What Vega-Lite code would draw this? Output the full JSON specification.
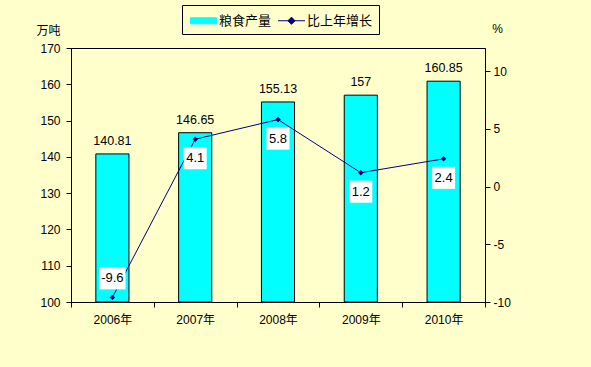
{
  "$schema": "https://vega.github.io/schema/vega-lite/v6.json",
  "width": 414,
  "height": 254,
  "autosize": {"type": "none"},
  "padding": {"left": 71, "top": 48, "right": 106, "bottom": 65},
  "background": "#FFFFCC",
  "config": {
    "font": "Liberation Sans, Noto Sans CJK SC",
    "view": {"stroke": "black", "strokeWidth": 1, "fill": "#FFFFCC"},
    "axis": {
      "labelFontSize": 12, "labelColor": "black", "domainColor": "black", "tickColor": "black",
      "grid": false, "titleFontSize": 12, "titleFontWeight": "normal", "titleColor": "black",
      "labelFont": "Liberation Sans, Noto Sans CJK SC", "titleFont": "Liberation Sans, Noto Sans CJK SC"
    }
  },
  "data": {"values": [
    {"year": "2006年", "output": 140.81, "growth": -9.6},
    {"year": "2007年", "output": 146.65, "growth": 4.1},
    {"year": "2008年", "output": 155.13, "growth": 5.8},
    {"year": "2009年", "output": 157, "growth": 1.2},
    {"year": "2010年", "output": 160.85, "growth": 2.4}
  ]},
  "encoding": {
    "x": {"field": "year", "type": "nominal", "scale": {"paddingInner": 0, "paddingOuter": 0},
      "axis": {"title": null, "labelAngle": 0, "tickBand": "extent", "tickSize": 5, "labelPadding": 7, "domain": false}}
  },
  "layer": [
    {
      "encoding": {
        "y": {"field": "output", "type": "quantitative",
          "scale": {"domain": [100, 170], "nice": false, "zero": false},
          "axis": {"title": "万吨", "titleAngle": 0, "titleX": -23, "titleY": -18, "titleAlign": "center", "titleBaseline": "middle",
            "values": [100, 110, 120, 130, 140, 150, 160, 170], "tickSize": 5, "labelPadding": 6}}
      },
      "layer": [
        {
          "mark": {"type": "bar", "width": {"band": 0.4}, "stroke": "black", "strokeWidth": 1},
          "encoding": {
            "y2": {"datum": 100},
            "color": {"datum": "粮食产量", "type": "nominal",
              "scale": {"domain": ["粮食产量", "比上年增长"], "range": ["#00FFFF", "#000080"]},
              "legend": {
                "orient": "none", "legendX": 111, "legendY": -43, "direction": "horizontal", "title": null,
                "strokeColor": "black", "fillColor": "#FFFFCC", "padding": 6, "labelFontSize": 13,
                "labelFont": "Liberation Sans, Noto Sans CJK SC", "labelColor": "black",
                "columnPadding": 4, "symbolSize": 324, "labelOffset": 6, "symbolOffset": 6,
                "symbolType": {"expr": "datum.value === '粮食产量' ? 'M-1.44,-0.33L1.44,-0.33L1.44,0.33L-1.44,0.33Z' : 'M-1.5,0L1.5,0M-0.4,0L0,-0.4L0.4,0L0,0.4Z'"},
                "symbolStrokeColor": {"expr": "datum.value === '粮食产量' ? 'black' : '#000080'"},
                "symbolStrokeWidth": 1
              }}
          }
        },
        {
          "mark": {"type": "text", "dy": -6, "fontSize": 12.5, "color": "black", "baseline": "bottom"},
          "encoding": {"text": {"field": "output", "type": "nominal"}}
        }
      ]
    },
    {
      "encoding": {
        "y": {"field": "growth", "type": "quantitative",
          "scale": {"domain": [-10, 12], "nice": false, "zero": false},
          "axis": {"orient": "right", "title": "%", "titleAngle": 0, "titleX": 12, "titleY": -20, "titleAlign": "center", "titleBaseline": "middle",
            "values": [-10, -5, 0, 5, 10], "labelExpr": "'' + datum.value", "tickSize": 5, "labelPadding": 3}}
      },
      "layer": [
        {
          "mark": {"type": "line", "strokeWidth": 1},
          "encoding": {"color": {"datum": "比上年增长", "type": "nominal"}}
        },
        {
          "mark": {"type": "point", "shape": "diamond", "filled": true, "size": 30, "opacity": 1},
          "encoding": {"color": {"datum": "比上年增长", "type": "nominal"}}
        },
        {
          "transform": [{"filter": "datum.growth >= 0"}],
          "mark": {"type": "point", "shape": "M-1,-0.96L1,-0.96L1,0.96L-1,0.96Z", "size": 529, "filled": true, "fill": "white", "strokeWidth": 0, "opacity": 1, "yOffset": 19}
        },
        {
          "transform": [{"filter": "datum.growth < 0"}],
          "mark": {"type": "point", "shape": "M-1.2,-1L1.2,-1L1.2,1L-1.2,1Z", "size": 484, "filled": true, "fill": "white", "strokeWidth": 0, "opacity": 1, "yOffset": -19}
        },
        {
          "transform": [{"filter": "datum.growth >= 0"}],
          "mark": {"type": "text", "dy": 19, "fontSize": 13, "color": "black", "baseline": "middle"},
          "encoding": {"text": {"field": "growth", "type": "nominal"}}
        },
        {
          "transform": [{"filter": "datum.growth < 0"}],
          "mark": {"type": "text", "dy": -19, "fontSize": 13, "color": "black", "baseline": "middle"},
          "encoding": {"text": {"field": "growth", "type": "nominal"}}
        }
      ]
    }
  ],
  "resolve": {"scale": {"y": "independent"}}
}
